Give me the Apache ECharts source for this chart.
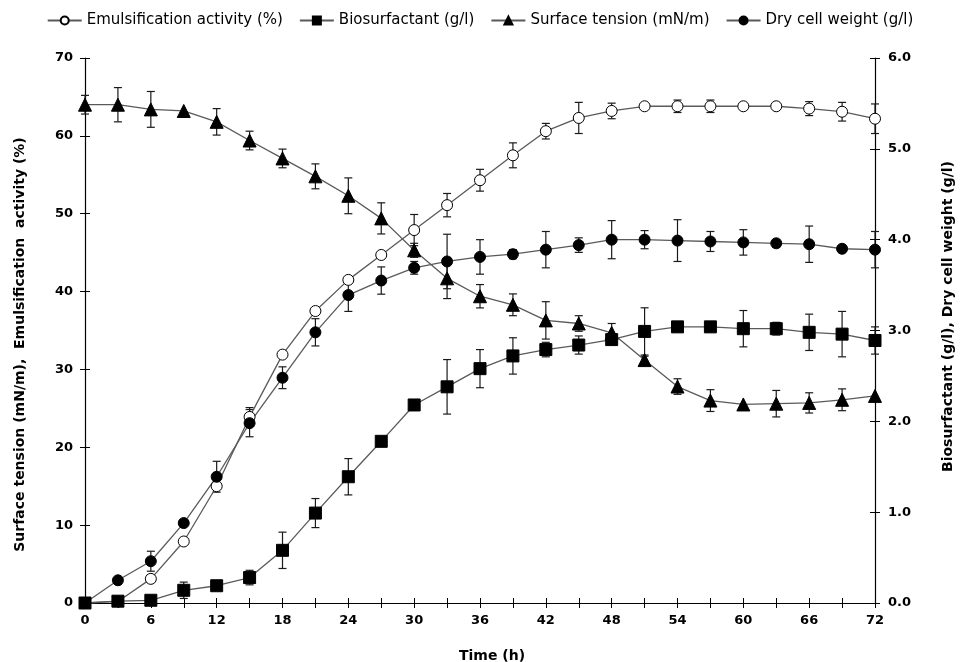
<!DOCTYPE html>
<html>
<head>
<meta charset="utf-8">
<script src="https://cdn.jsdelivr.net/npm/echarts@6/dist/echarts.min.js"></script>
<style>
  html, body { margin: 0; padding: 0; background: #fff; }
</style>
</head>
<body>
<div id="main" style="width: 960px;height: 662px;"></div>
<script>
// sampling times (h)
const hours = [0, 3, 6, 9, 12, 15, 18, 21, 24, 27, 30, 33, 36, 39, 42, 45, 48, 51, 54, 57, 60, 63, 66, 69, 72]

// left axis series
const emulsification = [0, 0.2, 3.1, 7.9, 15.0, 23.9, 31.9, 37.5, 41.5, 44.7, 47.9, 51.1, 54.3, 57.5, 60.6, 62.3, 63.2, 63.8, 63.8, 63.8, 63.8, 63.8, 63.5, 63.1, 62.2]
const emulsificationErr = [0, 0, 0, 0, 0, 1.2, 0, 0, 0, 0, 2.0, 1.5, 1.4, 1.6, 1.0, 2.0, 1.0, 0, 0.8, 0.8, 0, 0, 0.9, 1.2, 1.9]
const surfaceTension = [64.0, 64.0, 63.4, 63.2, 61.8, 59.4, 57.1, 54.8, 52.3, 49.4, 45.3, 41.7, 39.4, 38.3, 36.3, 35.9, 34.7, 31.2, 27.8, 26.0, 25.5, 25.6, 25.7, 26.1, 26.6]
const surfaceTensionErr = [1.2, 2.2, 2.3, 0, 1.7, 1.2, 1.2, 1.6, 2.3, 2.0, 0.9, 2.6, 1.5, 1.4, 2.4, 1.0, 1.2, 0.5, 1.0, 1.4, 0, 1.7, 1.3, 1.4, 0]

// right axis series
const biosurfactant = [0, 0.02, 0.03, 0.14, 0.19, 0.28, 0.58, 0.99, 1.39, 1.78, 2.18, 2.38, 2.58, 2.72, 2.79, 2.84, 2.90, 2.99, 3.04, 3.04, 3.02, 3.02, 2.98, 2.96, 2.89]
const biosurfactantErr = [0, 0, 0, 0.09, 0, 0.08, 0.2, 0.16, 0.2, 0, 0, 0.3, 0.21, 0.2, 0.08, 0.1, 0, 0.26, 0, 0, 0.2, 0.07, 0.2, 0.25, 0.15]
const dryCellWeight = [0, 0.25, 0.46, 0.88, 1.39, 1.98, 2.48, 2.98, 3.39, 3.55, 3.69, 3.76, 3.81, 3.84, 3.89, 3.94, 4.00, 4.00, 3.99, 3.98, 3.97, 3.96, 3.95, 3.90, 3.89]
const dryCellWeightErr = [0, 0, 0.11, 0, 0.17, 0.15, 0.12, 0.15, 0.18, 0.15, 0.07, 0.3, 0.19, 0.05, 0.2, 0.08, 0.21, 0.1, 0.23, 0.11, 0.14, 0.04, 0.2, 0, 0.2]

const chartDom = document.getElementById('main')
const myChart = echarts.init(chartDom)

const pairs = vals => hours.map((h, i) => [h, vals[i]])
const errs = (vals, err) => hours
    .map((h, i) => [h, vals[i] - err[i], vals[i] + err[i], err[i]])
    .filter(d => d[3] > 0)

// vertical error bar with caps
function renderError(params, api) {
  const x = api.value(0)
  const lo = api.coord([x, api.value(1)])
  const hi = api.coord([x, api.value(2)])
  const w = 4
  const st = {stroke: '#1a1a1a', lineWidth: 1.2}
  return {
    type: 'group',
    children: [
      {type: 'line', shape: {x1: lo[0], y1: lo[1], x2: hi[0], y2: hi[1]}, style: st},
      {type: 'line', shape: {x1: hi[0] - w, y1: hi[1], x2: hi[0] + w, y2: hi[1]}, style: st},
      {type: 'line', shape: {x1: lo[0] - w, y1: lo[1], x2: lo[0] + w, y2: lo[1]}, style: st}
    ]
  }
}

const labelFont = {color: '#000', fontFamily: 'DejaVu Sans, sans-serif', fontWeight: 'bold', fontSize: 13}
const nameFont = {color: '#000', fontFamily: 'DejaVu Sans, sans-serif', fontWeight: 'bold', fontSize: 14}
const axisLine = {show: true, onZero: false, lineStyle: {color: '#000', width: 1.2}}
const outTick = {show: true, length: 5, lineStyle: {color: '#000'}}
const inTick = {show: true, inside: true, length: 5, lineStyle: {color: '#000'}}

const errSeries = (name, data, yIdx) => ({
  name: name + ' err',
  type: 'custom',
  yAxisIndex: yIdx,
  renderItem: renderError,
  encode: {x: 0, y: [1, 2]},
  data: data,
  z: 1,
  silent: true
})

const lineSeries = (name, data, yIdx, symbol, size, fill) => ({
  name: name,
  type: 'line',
  yAxisIndex: yIdx,
  data: data,
  symbol: symbol,
  symbolSize: size,
  showAllSymbol: true,
  z: 3,
  lineStyle: {color: '#5a5a5a', width: 1.3},
  itemStyle: {color: fill, borderColor: '#000', borderWidth: 1}
})

let option = {
  backgroundColor: '#ffffff',
  animation: false,
  legend: {
    top: 8,
    left: 'center',
    itemWidth: 34,
    itemHeight: 10,
    itemGap: 16,
    textStyle: {color: '#000', fontFamily: 'DejaVu Sans, sans-serif', fontSize: 15},
    data: ['Emulsification activity (%)', 'Biosurfactant (g/l)', 'Surface tension (mN/m)', 'Dry cell weight (g/l)']
  },
  grid: {left: 85, right: 85, top: 58, bottom: 59, outerBoundsMode: 'none'},
  xAxis: [
    {
      type: 'value', min: 0, max: 72, interval: 3,
      name: 'Time (h)', nameLocation: 'middle', nameGap: 46,
      nameTextStyle: {...nameFont, padding: [0, 0, 0, 24]},
      axisLine: axisLine,
      axisTick: outTick,
      axisLabel: {...labelFont, margin: 11, formatter: v => (v % 6 === 0 ? v : '')},
      splitLine: {show: false}
    },
    {
      type: 'value', min: 0, max: 72, interval: 3, position: 'bottom',
      axisLine: {show: false, onZero: false},
      axisTick: inTick,
      axisLabel: {show: false},
      splitLine: {show: false}
    }
  ],
  yAxis: [
    {
      type: 'value', min: 0, max: 70, interval: 10, position: 'left',
      name: 'Surface tension (mN/m),  Emulsification  activity (%)',
      nameLocation: 'middle', nameGap: 58,
      nameTextStyle: {...nameFont, padding: [0, 0, 0, -28]},
      axisLine: axisLine,
      axisTick: outTick,
      axisLabel: {...labelFont, margin: 12},
      splitLine: {show: false}
    },
    {
      type: 'value', min: 0, max: 6, interval: 1, position: 'right',
      name: 'Biosurfactant (g/l), Dry cell weight (g/l)',
      nameLocation: 'middle', nameGap: 66,
      nameTextStyle: {...nameFont, padding: [0, 0, 0, 28]},
      axisLine: axisLine,
      axisTick: outTick,
      axisLabel: {...labelFont, margin: 13, formatter: v => v.toFixed(1)},
      splitLine: {show: false}
    },
    {
      type: 'value', min: 0, max: 70, interval: 10, position: 'left',
      axisLine: {show: false, onZero: false},
      axisTick: inTick,
      axisLabel: {show: false},
      splitLine: {show: false}
    },
    {
      type: 'value', min: 0, max: 6, interval: 1, position: 'right',
      axisLine: {show: false, onZero: false},
      axisTick: inTick,
      axisLabel: {show: false},
      splitLine: {show: false}
    }
  ],
  series: [
    errSeries('Emulsification activity (%)', errs(emulsification, emulsificationErr), 0),
    errSeries('Surface tension (mN/m)', errs(surfaceTension, surfaceTensionErr), 0),
    errSeries('Biosurfactant (g/l)', errs(biosurfactant, biosurfactantErr), 1),
    errSeries('Dry cell weight (g/l)', errs(dryCellWeight, dryCellWeightErr), 1),
    lineSeries('Emulsification activity (%)', pairs(emulsification), 0, 'circle', 11, '#ffffff'),
    lineSeries('Biosurfactant (g/l)', pairs(biosurfactant), 1, 'rect', 12, '#000000'),
    lineSeries('Surface tension (mN/m)', pairs(surfaceTension), 0, 'triangle', 13, '#000000'),
    lineSeries('Dry cell weight (g/l)', pairs(dryCellWeight), 1, 'circle', 11, '#000000')
  ]
}
option && myChart.setOption(option)
</script>
</body>
</html>
